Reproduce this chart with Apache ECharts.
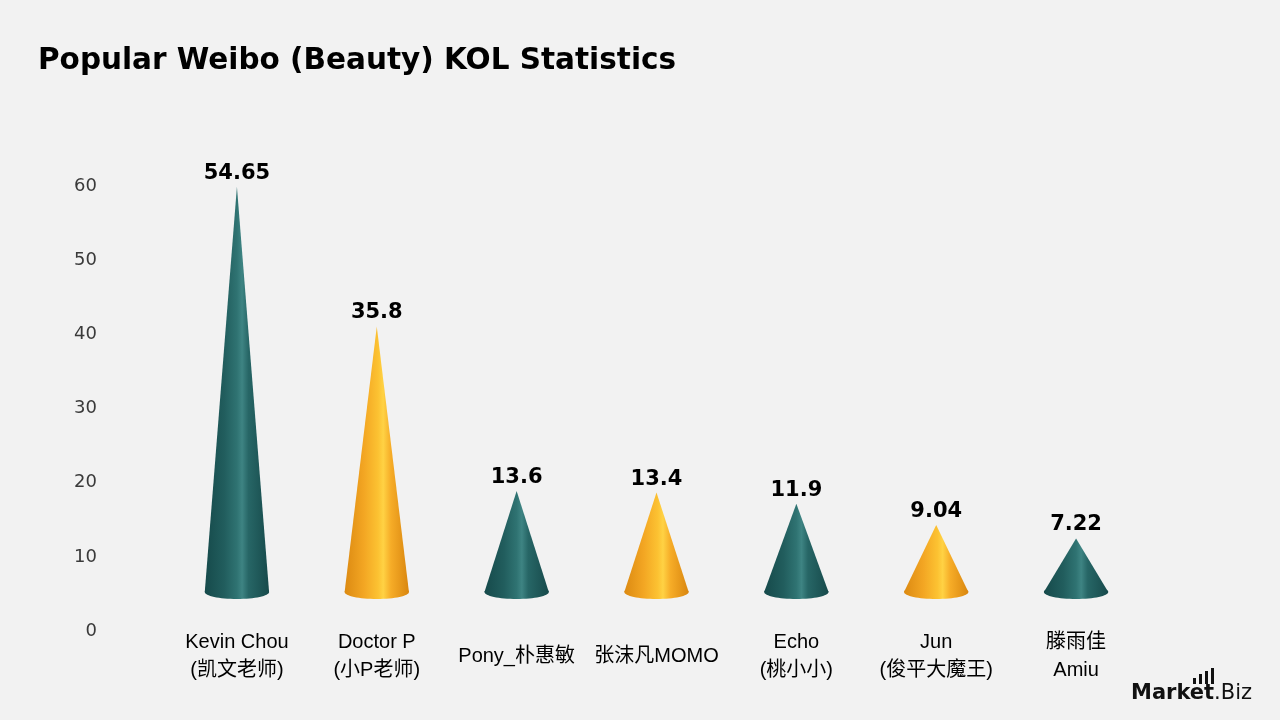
<!DOCTYPE html>
<html>
<head>
<meta charset="utf-8">
<script src="https://cdn.jsdelivr.net/npm/echarts@6/dist/echarts.min.js"></script>
<style>
html,body{margin:0;padding:0;background:#f2f2f2;}
#chart{width:1280px;height:720px;}
</style>
</head>
<body>
<div id="chart"></div>
<script>
const categories = ['Kevin Chou\n(凯文老师)', 'Doctor P\n(小P老师)', 'Pony_朴惠敏', '张沫凡MOMO', 'Echo\n(桃小小)', 'Jun\n(俊平大魔王)', '滕雨佳\nAmiu'];
const values = [54.65, 35.8, 13.6, 13.4, 11.9, 9.04, 7.22];
const colorKinds = ['teal', 'orange', 'teal', 'orange', 'teal', 'orange', 'teal'];
const yTicks = [0, 10, 20, 30, 40, 50, 60];

const BASE_OFFSET = 5.26; // 3D floor depth in axis units

const gradients = {
  teal: [
    {offset: 0, color: '#164a4b'},
    {offset: 0.3, color: '#215d5d'},
    {offset: 0.5, color: '#2f7372'},
    {offset: 0.58, color: '#3e8483'},
    {offset: 0.68, color: '#276666'},
    {offset: 1, color: '#174a4b'}
  ],
  orange: [
    {offset: 0, color: '#dc8a12'},
    {offset: 0.3, color: '#f3a623'},
    {offset: 0.52, color: '#fcc232'},
    {offset: 0.6, color: '#ffd244'},
    {offset: 0.72, color: '#f6ac27'},
    {offset: 1, color: '#d9860f'}
  ]
};

const chart = echarts.init(document.getElementById('chart'));

function renderCone(params, api) {
  const idx = api.value(0);
  const val = api.value(1);
  const base = api.coord([idx, BASE_OFFSET]);
  const tip = api.coord([idx, val + BASE_OFFSET]);
  const band = api.size([1, 0])[0];
  const rx = band * 0.23;
  const ry = 7;
  const cx = base[0], by = base[1];
  const kind = colorKinds[idx];
  const grad = new echarts.graphic.LinearGradient(0, 0, 1, 0, gradients[kind]);
  return {
    type: 'group',
    children: [
      {
        type: 'ellipse',
        shape: {cx: cx, cy: by, rx: rx, ry: ry},
        style: {fill: grad}
      },
      {
        type: 'polygon',
        shape: {points: [[cx - rx, by], [cx + rx, by], [cx, tip[1]]]},
        style: {fill: grad}
      },
      {
        type: 'text',
        x: cx,
        y: tip[1] - 3,
        style: {
          text: String(val),
          fill: '#000',
          font: 'bold 21px "DejaVu Sans", sans-serif',
          textAlign: 'center',
          textVerticalAlign: 'bottom'
        }
      }
    ]
  };
}

chart.setOption({
  backgroundColor: '#f2f2f2',
  animation: false,
  title: {
    text: 'Popular Weibo (Beauty) KOL Statistics',
    left: 33,
    top: 41,
    textStyle: {
      fontFamily: '"DejaVu Sans", sans-serif',
      fontWeight: 'bold',
      fontSize: 29.5,
      color: '#000'
    }
  },
  grid: {left: 167, right: 134, top: 186, bottom: 89},
  xAxis: {
    type: 'category',
    data: categories,
    axisLine: {show: false},
    axisTick: {show: false},
    axisLabel: {
      interval: 0,
      margin: 25,
      verticalAlign: 'middle',
      fontFamily: '"Liberation Sans", "Noto Sans CJK SC", sans-serif',
      fontSize: 20,
      lineHeight: 28,
      color: '#000'
    }
  },
  yAxis: {
    type: 'value',
    min: yTicks[0],
    max: yTicks[yTicks.length - 1],
    interval: 10,
    axisLine: {show: false},
    axisTick: {show: false},
    splitLine: {show: false},
    axisLabel: {
      margin: 70,
      fontFamily: '"DejaVu Sans", sans-serif',
      fontSize: 18,
      color: '#3a3a3a'
    }
  },
  series: [{
    type: 'custom',
    renderItem: renderCone,
    data: values.map((v, i) => [i, v]),
    encode: {x: 0, y: 1}
  }],
  graphic: [
    {
      type: 'group',
      left: 1131,
      top: 668,
      children: [
        {type: 'rect', shape: {x: 62, y: 10, width: 3, height: 6}, style: {fill: '#111'}},
        {type: 'rect', shape: {x: 68, y: 6, width: 3, height: 10}, style: {fill: '#111'}},
        {type: 'rect', shape: {x: 74, y: 3, width: 3, height: 13}, style: {fill: '#111'}},
        {type: 'rect', shape: {x: 80, y: 0, width: 3, height: 16}, style: {fill: '#111'}},
        {type: 'text', x: 0, y: 15, style: {
          text: '{a|Market}{b|.Biz}',
          rich: {
            a: {font: 'bold 21px "DejaVu Sans", sans-serif', fill: '#111'},
            b: {font: '21px "DejaVu Sans", sans-serif', fill: '#111'}
          }
        }}
      ]
    }
  ]
});
</script>
</body>
</html>
